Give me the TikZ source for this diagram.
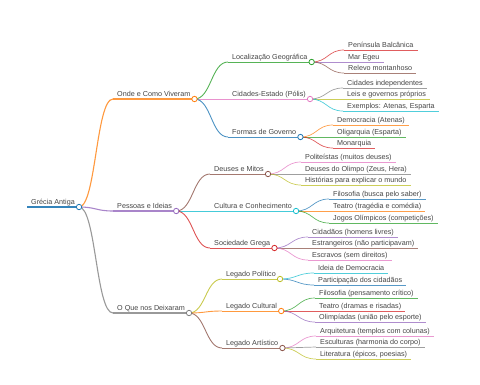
\documentclass[tikz,border=0pt]{standalone}
\usepackage{fontspec}
\setmainfont{Liberation Sans}
\usetikzlibrary{calc}
\definecolor{cblue}{HTML}{1F77B4}
\definecolor{corange}{HTML}{FF7F0E}
\definecolor{cgreen}{HTML}{2CA02C}
\definecolor{cred}{HTML}{D62728}
\definecolor{cpurple}{HTML}{9467BD}
\definecolor{cbrown}{HTML}{8C564B}
\definecolor{cpink}{HTML}{E377C2}
\definecolor{cgray}{HTML}{7F7F7F}
\definecolor{colive}{HTML}{BCBD22}
\definecolor{ccyan}{HTML}{17BECF}
\definecolor{txt}{HTML}{444444}
\tikzset{
  mmtext/.style={anchor=south west, inner xsep=4pt, inner ysep=1pt, text height=5.3pt, text depth=1.5pt, text=txt, font=\fontsize{7.2}{8}\selectfont},
  mmlink/.style={to path={let \p1=(\tikztostart), \p2=(\tikztotarget) in .. controls ({0.5*\x1+0.5*\x2},\y1) and ({0.5*\x1+0.5*\x2},\y2) .. (\tikztotarget)}},
  lv0/.style={line width=2.5pt, draw opacity=0.9},
  lv1/.style={line width=1.1pt, draw opacity=0.8},
  lv2/.style={line width=0.9pt, draw opacity=0.8},
  lv3/.style={line width=0.7pt, draw opacity=0.75},
  knob/.style={fill=white, line width=0.8pt},
}
% name, x, y, colour, level style, text
\newcommand\mmn[6]{%
  \node[mmtext] (#1) at (#2,#3) {#6};
  \draw[#4, #5] (#1.south west) -- (#1.south east);
}
% parent, child, colour, level style
\newcommand\mml[4]{\draw[#3, #4] (#1.south east) to[mmlink] (#2.south west);}
% node, colour
\newcommand\mmk[2]{\draw[#2, knob] (#1.south east) circle (2.7pt);}
\begin{document}
\begin{tikzpicture}[x=1pt, y=-1pt]
\useasboundingbox (0,0) rectangle (480,384);
% root
\mmn{root}{27}{207}{cblue}{lv0}{Grécia Antiga}
% level 1
\mmn{a}{113}{99}{corange}{lv1}{Onde e Como Viveram}
\mmn{b}{113}{211}{cpurple}{lv1}{Pessoas e Ideias}
\mmn{c}{113}{313}{cgray}{lv1}{O Que nos Deixaram}
% level 2
\mmn{a1}{228}{62}{cgreen}{lv2}{Localização Geográfica}
\mmn{a2}{228}{99}{cpink}{lv2}{Cidades-Estado (Pólis)}
\mmn{a3}{228}{137}{cblue}{lv2}{Formas de Governo}
\mmn{b1}{210}{174}{cbrown}{lv2}{Deuses e Mitos}
\mmn{b2}{210}{211}{ccyan}{lv2}{Cultura e Conhecimento}
\mmn{b3}{210}{248}{cred}{lv2}{Sociedade Grega}
\mmn{c1}{222}{279}{colive}{lv2}{Legado Político}
\mmn{c2}{222}{311}{corange}{lv2}{Legado Cultural}
\mmn{c3}{222}{348}{cbrown}{lv2}{Legado Artístico}
% level 3
\mmn{a11}{344}{50}{cred}{lv3}{Península Balcânica}
\mmn{a12}{344}{62}{cpurple}{lv3}{Mar Egeu}
\mmn{a13}{344}{73}{cbrown}{lv3}{Relevo montanhoso}
\mmn{a21}{343}{88}{cgray}{lv3}{Cidades independentes}
\mmn{a22}{343}{99}{colive}{lv3}{Leis e governos próprios}
\mmn{a23}{343}{111}{ccyan}{lv3}{Exemplos: Atenas, Esparta}
\mmn{a31}{333}{125}{corange}{lv3}{Democracia (Atenas)}
\mmn{a32}{333}{137}{cgreen}{lv3}{Oligarquia (Esparta)}
\mmn{a33}{333}{148}{cred}{lv3}{Monarquia}
\mmn{b11}{301}{162}{cpink}{lv3}{Politeístas (muitos deuses)}
\mmn{b12}{301}{174}{cgray}{lv3}{Deuses do Olimpo (Zeus, Hera)}
\mmn{b13}{301}{185}{colive}{lv3}{Histórias para explicar o mundo}
\mmn{b21}{329}{199}{cblue}{lv3}{Filosofia (busca pelo saber)}
\mmn{b22}{329}{211}{corange}{lv3}{Teatro (tragédia e comédia)}
\mmn{b23}{329}{223}{cgreen}{lv3}{Jogos Olímpicos (competições)}
\mmn{b31}{308}{237}{cpurple}{lv3}{Cidadãos (homens livres)}
\mmn{b32}{308}{248}{cbrown}{lv3}{Estrangeiros (não participavam)}
\mmn{b33}{308}{260}{cpink}{lv3}{Escravos (sem direitos)}
\mmn{c11}{314}{273}{ccyan}{lv3}{Ideia de Democracia}
\mmn{c12}{314}{285}{cblue}{lv3}{Participação dos cidadãos}
\mmn{c21}{315}{298}{cgreen}{lv3}{Filosofia (pensamento crítico)}
\mmn{c22}{315}{311}{cred}{lv3}{Teatro (dramas e risadas)}
\mmn{c23}{315}{322}{cpurple}{lv3}{Olimpíadas (união pelo esporte)}
\mmn{c31}{316}{336}{cpink}{lv3}{Arquitetura (templos com colunas)}
\mmn{c32}{316}{347}{cgray}{lv3}{Esculturas (harmonia do corpo)}
\mmn{c33}{316}{359}{colive}{lv3}{Literatura (épicos, poesias)}
% links
\mml{root}{a}{corange}{lv1}
\mml{root}{b}{cpurple}{lv1}
\mml{root}{c}{cgray}{lv1}
\mml{a}{a1}{cgreen}{lv2}
\mml{a}{a2}{cpink}{lv2}
\mml{a}{a3}{cblue}{lv2}
\mml{b}{b1}{cbrown}{lv2}
\mml{b}{b2}{ccyan}{lv2}
\mml{b}{b3}{cred}{lv2}
\mml{c}{c1}{colive}{lv2}
\mml{c}{c2}{corange}{lv2}
\mml{c}{c3}{cbrown}{lv2}
\mml{a1}{a11}{cred}{lv3}
\mml{a1}{a12}{cpurple}{lv3}
\mml{a1}{a13}{cbrown}{lv3}
\mml{a2}{a21}{cgray}{lv3}
\mml{a2}{a22}{colive}{lv3}
\mml{a2}{a23}{ccyan}{lv3}
\mml{a3}{a31}{corange}{lv3}
\mml{a3}{a32}{cgreen}{lv3}
\mml{a3}{a33}{cred}{lv3}
\mml{b1}{b11}{cpink}{lv3}
\mml{b1}{b12}{cgray}{lv3}
\mml{b1}{b13}{colive}{lv3}
\mml{b2}{b21}{cblue}{lv3}
\mml{b2}{b22}{corange}{lv3}
\mml{b2}{b23}{cgreen}{lv3}
\mml{b3}{b31}{cpurple}{lv3}
\mml{b3}{b32}{cbrown}{lv3}
\mml{b3}{b33}{cpink}{lv3}
\mml{c1}{c11}{ccyan}{lv3}
\mml{c1}{c12}{cblue}{lv3}
\mml{c2}{c21}{cgreen}{lv3}
\mml{c2}{c22}{cred}{lv3}
\mml{c2}{c23}{cpurple}{lv3}
\mml{c3}{c31}{cpink}{lv3}
\mml{c3}{c32}{cgray}{lv3}
\mml{c3}{c33}{colive}{lv3}
% knobs
\mmk{root}{cblue}
\mmk{a}{corange}
\mmk{b}{cpurple}
\mmk{c}{cgray}
\mmk{a1}{cgreen}
\mmk{a2}{cpink}
\mmk{a3}{cblue}
\mmk{b1}{cbrown}
\mmk{b2}{ccyan}
\mmk{b3}{cred}
\mmk{c1}{colive}
\mmk{c2}{corange}
\mmk{c3}{cbrown}
\end{tikzpicture}
\end{document}
